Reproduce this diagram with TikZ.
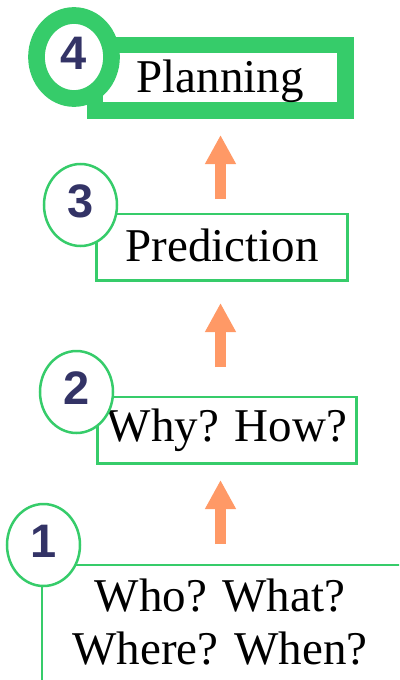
\documentclass[tikz,border=0pt]{standalone}
\usepackage{fontspec}
\setmainfont{Liberation Serif}
\newfontfamily\digitfont{Liberation Sans}
\usetikzlibrary{shapes.geometric,arrows.meta}
\definecolor{stepgreen}{RGB}{54,204,106}
\definecolor{stepnavy}{RGB}{51,51,102}
\definecolor{steporange}{RGB}{255,153,102}
\tikzset{
  stepbox/.style={rectangle, draw=stepgreen, line width=2.5pt, inner sep=0pt, outer sep=0pt,
    font=\fontsize{47}{53}\selectfont, text=black},
  mainbox/.style={stepbox, line width=16.7pt},
  badge/.style={ellipse, draw=stepgreen, fill=white, line width=2.5pt, inner sep=0pt, outer sep=0pt,
    minimum width=73pt, minimum height=82pt,
    font=\digitfont\bfseries\fontsize{47}{47}\selectfont, text=stepnavy,
    text height=34pt, text depth=9pt},
  mainbadge/.style={badge, line width=16.7pt, minimum width=75pt, minimum height=83pt},
  uparrow/.style={draw=steporange, line width=11pt, -{Triangle[length=29pt,width=29pt]}},
  labeltext/.style={font=\fontsize{47}{53}\selectfont, text=black, inner sep=0pt, align=center}
}
\begin{document}
\begin{tikzpicture}[x=1pt,y=-1pt]
  \useasboundingbox (0,0) rectangle (399,680);
  \clip (0,0) rectangle (399,680);
  \fill[white] (0,0) rectangle (399,680);

  % column of the arrows
  \coordinate (ax) at (220.5,0);

  % step boxes
  \node[mainbox, minimum width=250.7pt, text height=47pt, text depth=18.7pt, anchor=base]
    (p4) at (220.3,92) {Planning};
  \node[stepbox, minimum width=251pt, text height=47pt, text depth=19.5pt, anchor=base]
    (p3) at (222,261) {Prediction};
  \node[stepbox, minimum width=259pt, text height=44.7pt, text depth=21.8pt, anchor=base]
    (p2) at (227,441.7) {Why? How?};
  \node[stepbox, minimum width=500pt, minimum height=300pt, anchor=north west]
    (p1) at (42,565) {};
  % base anchor of a two-line node sits on its last line
  \node[labeltext, anchor=base] (t1) at (220,664) {Who? What?\\Where? When?};

  % arrows between the steps
  \draw[uparrow, shorten <=15pt, shorten >=24.3pt] (p3.north -| ax) -- (p4.south -| ax);
  \draw[uparrow, shorten <=30pt, shorten >=22.5pt] (p2.north -| ax) -- (p3.south -| ax);
  \draw[uparrow, shorten <=21pt, shorten >=16.5pt] (p1.north -| ax) -- (p2.south -| ax);

  % numbered badges
  \node[mainbadge] (n4) at (74,57) {4};
  \node[badge] (n3) at (80.5,205) {3};
  \node[badge] (n2) at (76.5,392) {2};
  \node[badge] (n1) at (43.5,545) {1};
\end{tikzpicture}
\end{document}
